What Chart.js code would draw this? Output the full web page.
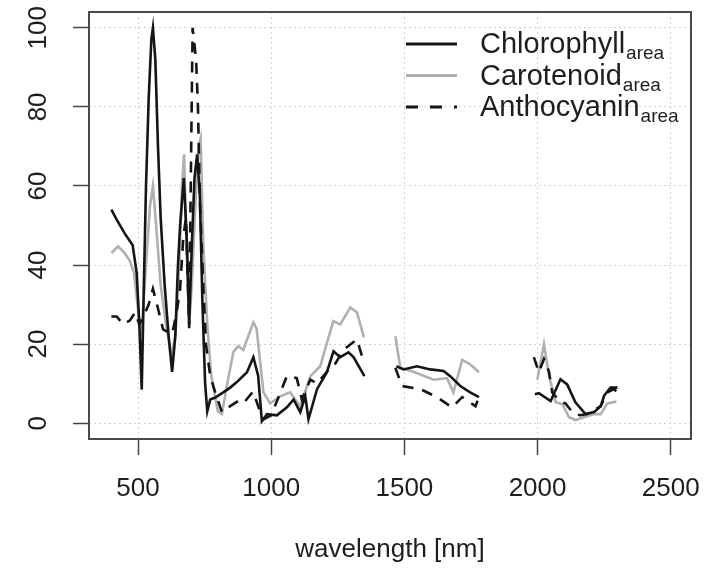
<!DOCTYPE html>
<html>
<head>
<meta charset="utf-8">
<script src="https://cdn.jsdelivr.net/npm/chart.js@4.4.1/dist/chart.umd.min.js"></script>
<style>
  html, body { margin: 0; padding: 0; background: #fff; }
  #wrap { width: 720px; height: 571px; }
</style>
</head>
<body>
<div id="wrap"><canvas id="spectra" width="720" height="571"></canvas></div>
<script>
// Ejes
const xTicks = [500, 1000, 1500, 2000, 2500];
const yTicks = [0, 20, 40, 60, 80, 100];

// Chlorophyll (null = hueco por bandas de agua)
const chlWl = [400, 420, 450, 480, 495, 505, 514, 522, 530, 540, 550, 556, 565, 575, 585, 600, 615, 628, 640, 650,
  658, 672, 684, 692, 702, 712, 722, 732, 742, 752, 760, 771, 790, 820, 846, 871, 909, 933, 951, 965,
  984, 1021, 1059, 1084, 1109, 1128, 1140, 1172, 1209, 1234, 1259, 1290, 1309, 1350,
  1410,
  1470, 1497, 1547, 1597, 1647, 1672, 1710, 1747, 1780,
  1880,
  1990, 2005, 2049, 2086, 2111, 2142, 2180, 2212, 2237, 2250, 2274, 2300];
const chlVal = [54, 51.5, 48, 45, 38, 25, 8.5, 35, 60, 82, 97, 100, 92, 70, 52, 35, 22, 13, 22, 40,
  50, 62, 45, 25, 45, 62, 68, 58, 30, 10, 3, 6, 6.5, 7.8, 9, 10.4, 12.9, 16.7, 12, 0.5,
  2.3, 2, 4, 6, 2.8, 6.8, 1, 8.6, 12.9, 18.2, 16.7, 17.9, 16.7, 11.9,
  null,
  14.4, 13.6, 14.4, 13.6, 13.2, 11.9, 9.4, 7.8, 6.6,
  null,
  7.3, 7.6, 5.6, 11.1, 9.8, 5.3, 2.3, 2.8, 4.3, 7, 9, 9];

// Carotenoid
const carWl = [400, 425, 450, 470, 485, 501, 512, 530, 545, 556, 568, 585, 605, 625, 640, 655, 665, 673, 682, 692,
  702, 715, 728, 735, 745, 760, 775, 800, 815, 835, 858, 876, 895, 933, 945, 971, 996, 1034, 1071, 1109,
  1147, 1184, 1233, 1259, 1297, 1322, 1348,
  1410,
  1466, 1485, 1534, 1610, 1660, 1684, 1717, 1747, 1780,
  1880,
  1999, 2024, 2043, 2068, 2093, 2118, 2143, 2174, 2212, 2237, 2262, 2296];
const carVal = [43, 44.7, 43, 41, 38, 28, 22, 40, 55, 60, 50, 35, 25, 17, 22, 40, 60, 68, 45, 25,
  35, 55, 70, 72, 45, 25, 12, 3, 2.3, 10, 18, 19.5, 18.5, 25.5, 24, 7.8, 5, 6.8, 7.8, 4.3,
  11.9, 14.4, 25.8, 25, 29.3, 28, 21.7,
  null,
  22, 14, 13, 11, 11.4, 7.8, 16, 14.9, 12.9,
  null,
  11, 20, 12, 5.3, 4.8, 1.5, 0.8, 1.5, 2.3, 2.3, 5, 5.5];

// Anthocyanin
const antWl = [400, 420, 444, 470, 489, 505, 519, 540, 556, 575, 594, 628, 645, 658, 670, 680, 692, 698, 705, 718,
  725, 733, 745, 755, 771, 789, 815, 846, 876, 895, 932, 958, 972, 1000, 1030, 1059, 1096, 1115, 1147, 1172,
  1209, 1240, 1272, 1322, 1348,
  1410,
  1466, 1491, 1560, 1622, 1679, 1717, 1767, 1780,
  1880,
  1986, 2005, 2024, 2043, 2055, 2086, 2105, 2136, 2161, 2186, 2237, 2262, 2287, 2296];
const antVal = [27, 27, 25, 26, 28, 25, 26.8, 30, 34, 29, 23.7, 22.5, 28, 34, 47, 52, 24, 60, 100, 92,
  80, 55, 35, 20, 12, 8, 2.8, 4.3, 5.6, 5, 8, 3, 1, 2, 7, 11.9, 11.4, 6, 11, 10,
  13, 15, 18.6, 21.2, 15.4,
  null,
  14, 9.4, 8.6, 6.6, 4, 6.6, 4.3, 6.6,
  null,
  16.7, 12.9, 16.2, 13, 7.8, 5.3, 5, 2.3, 2, 2.3, 4.3, 7.8, 8.6, 8];

const FONT = "'Liberation Sans', Arial, Helvetica, sans-serif";
const INK = "#1e1e1e";
const BLACK = "#151515";
const GREY = "#b0b0b0";

function toPoints(wl, val) {
  return wl.map(function (w, i) { return { x: w, y: val[i] }; });
}

// Caja y leyenda al estilo R
const rFrame = {
  id: "rFrame",
  afterDatasetsDraw(chart) {
    const ctx = chart.ctx;
    const a = chart.chartArea;
    ctx.save();
    ctx.strokeStyle = "#4a4a4a";
    ctx.lineWidth = 2;
    ctx.strokeRect(a.left, a.top, a.right - a.left, a.bottom - a.top);

    const items = [
      { name: "Chlorophyll", color: BLACK, dash: [] },
      { name: "Carotenoid", color: GREY, dash: [] },
      { name: "Anthocyanin", color: BLACK, dash: [12, 12] }
    ];
    items.forEach(function (it, i) {
      const ly = 44 + i * 31.5;
      ctx.beginPath();
      ctx.setLineDash(it.dash);
      ctx.strokeStyle = it.color;
      ctx.lineWidth = 3;
      ctx.moveTo(406, ly);
      ctx.lineTo(457, ly);
      ctx.stroke();
      ctx.setLineDash([]);

      ctx.fillStyle = INK;
      ctx.textBaseline = "alphabetic";
      ctx.textAlign = "left";
      ctx.font = "29px " + FONT;
      ctx.fillText(it.name, 480, ly + 9);
      const w = ctx.measureText(it.name).width;
      ctx.font = "19px " + FONT;
      ctx.fillText("area", 480 + w + 1, ly + 15);
    });
    ctx.restore();
  }
};

new Chart(document.getElementById("spectra"), {
  type: "line",
  data: {
    datasets: [
      { label: "Anthocyanin", data: toPoints(antWl, antVal), borderColor: BLACK, borderWidth: 2.6,
        borderDash: [11, 9], pointRadius: 0, tension: 0, spanGaps: false },
      { label: "Chlorophyll", data: toPoints(chlWl, chlVal), borderColor: BLACK, borderWidth: 2.6,
        pointRadius: 0, tension: 0, spanGaps: false },
      { label: "Carotenoid", data: toPoints(carWl, carVal), borderColor: GREY, borderWidth: 2.6,
        pointRadius: 0, tension: 0, spanGaps: false }
    ]
  },
  options: {
    responsive: false,
    animation: false,
    layout: { padding: { top: 12, right: 29, left: 0, bottom: 0 } },
    plugins: { legend: { display: false }, tooltip: { enabled: false } },
    scales: {
      x: {
        type: "linear",
        min: 316,
        max: 2576,
        afterBuildTicks: function (s) { s.ticks = xTicks.map(function (v) { return { value: v }; }); },
        afterFit: function (s) { s.height = 132; s.paddingLeft = 0; s.paddingRight = 0; },
        ticks: {
          autoSkip: false, maxRotation: 0, padding: 18, color: INK,
          font: { family: FONT, size: 26 },
          callback: function (v) { return String(v); }
        },
        grid: { color: "#d2d2d2", lineWidth: 1, tickLength: 16, tickColor: "#444", tickWidth: 1.5 },
        border: { display: false, dash: [2, 3] },
        title: {
          display: true, text: "wavelength [nm]", color: INK,
          font: { family: FONT, size: 26, lineHeight: 1.2 },
          padding: { top: 0, bottom: 6 }
        }
      },
      y: {
        min: -4,
        max: 104,
        afterBuildTicks: function (s) { s.ticks = yTicks.map(function (v) { return { value: v }; }); },
        afterFit: function (s) { s.width = 89; s.paddingTop = 0; s.paddingBottom = 0; },
        ticks: {
          autoSkip: false, minRotation: 90, maxRotation: 90, crossAlign: "center", padding: 12, color: INK,
          font: { family: FONT, size: 26 },
          callback: function (v) { return String(v); }
        },
        grid: { color: "#d2d2d2", lineWidth: 1, tickLength: 16, tickColor: "#444", tickWidth: 1.5 },
        border: { display: false, dash: [2, 3] }
      }
    }
  },
  plugins: [rFrame]
});
</script>
</body>
</html>
